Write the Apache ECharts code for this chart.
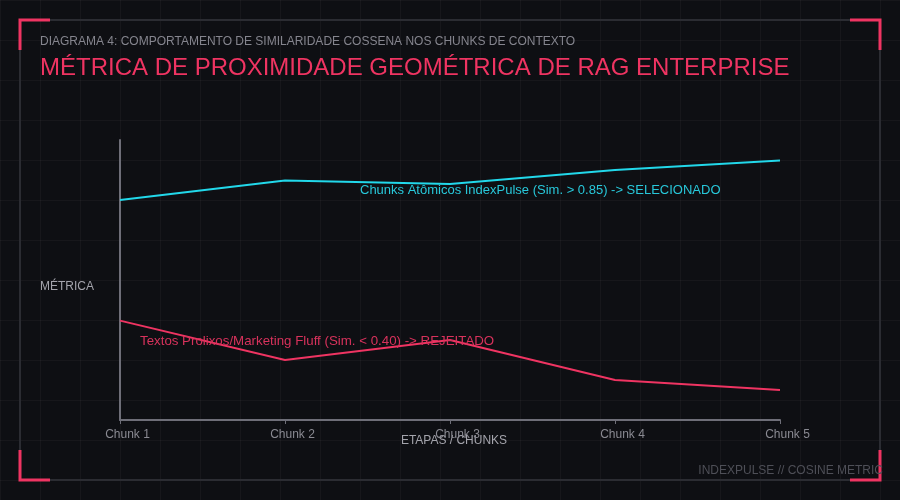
<!DOCTYPE html>
<html>
<head>
<meta charset="utf-8">
<script src="https://cdn.jsdelivr.net/npm/echarts@6/dist/echarts.min.js"></script>
<style>
html,body{margin:0;padding:0;width:900px;height:500px;overflow:hidden;
background-color:#0e0f13;
background-image:linear-gradient(to right, rgba(255,255,255,0.035) 1px, transparent 1px),
linear-gradient(to bottom, rgba(255,255,255,0.035) 1px, transparent 1px);
background-size:40px 40px;background-position:0 0;}
#chart{width:900px;height:500px;}
</style>
</head>
<body>
<div id="chart"></div>
<script>
const categories = ['Chunk 1', 'Chunk 2', 'Chunk 3', 'Chunk 4', 'Chunk 5'];
const atomicValues = [0.786, 0.855, 0.843, 0.893, 0.927];
const fluffValues = [0.355, 0.214, 0.286, 0.143, 0.107];
const subtitleText = 'DIAGRAMA 4: COMPORTAMENTO DE SIMILARIDADE COSSENA NOS CHUNKS DE CONTEXTO';
const titleText = 'MÉTRICA DE PROXIMIDADE GEOMÉTRICA DE RAG ENTERPRISE';
const atomicLabel = 'Chunks Atômicos IndexPulse (Sim. > 0.85) -> SELECIONADO';
const fluffLabel = 'Textos Prolixos/Marketing Fluff (Sim. < 0.40) -> REJEITADO';
const footerText = 'INDEXPULSE // COSINE METRIC';

const PINK = '#ef3462';
const CYAN = '#22d8ea';
const FONT = '"Liberation Sans", Arial, sans-serif';

const chart = echarts.init(document.getElementById('chart'), null, {renderer: 'canvas'});
const bracket = (pts) => ({type:'polyline', shape:{points:pts}, style:{stroke:PINK, lineWidth:3, fill:null}, z:10});
chart.setOption({
  backgroundColor: 'transparent',
  animation: false,
  textStyle: {fontFamily: FONT},
  grid: {left: 120, right: 120, top: 140, bottom: 80},
  xAxis: {
    type: 'category', data: categories, boundaryGap: false,
    name: 'ETAPAS / CHUNKS', nameLocation: 'middle', nameGap: 15, nameMoveOverlap: false,
    nameTextStyle: {color: '#a4a4ac', fontSize: 12, fontFamily: FONT, padding: [0, 0, 0, 8]},
    axisLine: {lineStyle: {color: '#6e6e78', width: 2}},
    axisTick: {show: true, length: 4, lineStyle: {color: '#6e6e78', width: 1}},
    axisLabel: {color: '#8a8a92', fontSize: 12, margin: 9, fontFamily: FONT, padding: [0, 0, 0, 15]},
    splitLine: {show: false}
  },
  yAxis: {
    type: 'value', min: 0, max: 1,
    axisLine: {show: true, lineStyle: {color: '#6e6e78', width: 2}},
    axisTick: {show: false}, axisLabel: {show: false}, splitLine: {show: false}
  },
  series: [
    {type: 'line', data: atomicValues, showSymbol: false, symbol: 'none',
     lineStyle: {color: CYAN, width: 2}, itemStyle: {color: CYAN}},
    {type: 'line', data: fluffValues, showSymbol: false, symbol: 'none',
     lineStyle: {color: PINK, width: 2}, itemStyle: {color: PINK}}
  ],
  graphic: [
    {type:'rect', shape:{x:20, y:20, width:860, height:460}, style:{stroke:'#2b2c32', lineWidth:2, fill:null}, z:1},
    bracket([[50,20],[20,20],[20,50]]),
    bracket([[850,20],[880,20],[880,50]]),
    bracket([[20,450],[20,480],[50,480]]),
    bracket([[850,480],[880,480],[880,450]]),
    {type:'text', left:40, top:36, style:{text:subtitleText, fill:'#85858e', font:'12px ' + FONT}, z:11},
    {type:'text', left:40, top:56, style:{text:titleText, fill:PINK, font:'24px ' + FONT}, z:11},
    {type:'text', left:40, top:281, style:{text:'MÉTRICA', fill:'#a4a4ac', font:'12px ' + FONT}, z:11},
    {type:'text', left:360, top:184, style:{text:atomicLabel, fill:'#28c8da', font:'13px ' + FONT}, z:11},
    {type:'text', left:140, top:335, style:{text:fluffLabel, fill:'#d8325c', font:'13.3px ' + FONT}, z:11},
    {type:'text', right:17, top:465, style:{text:footerText, fill:'#4e4f57', font:'12px ' + FONT}, z:11}
  ]
});
</script>
</body>
</html>
